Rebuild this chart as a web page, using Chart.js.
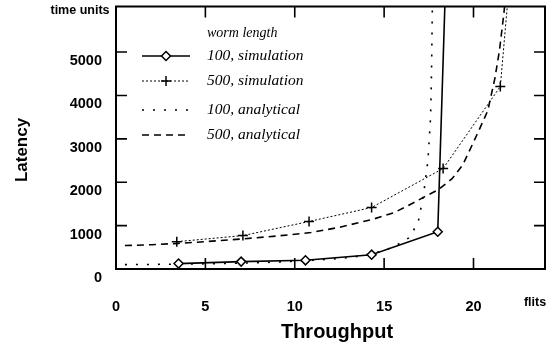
<!DOCTYPE html>
<html lang="en">
  <head>
    <meta charset="UTF-8" />
    <title>Latency vs Throughput</title>
    <script src="https://cdn.jsdelivr.net/npm/chart.js"></script>
    <style>
      body { margin: 0; background: #fff; }
      #wrap { width: 552px; height: 350px; }
    </style>
  </head>
  <body>
    <div id="wrap"><canvas id="latencyChart"></canvas></div>

    <script>
      // throughput (flits) / latency (time units)
      const sim100X = [3.5, 7.0, 10.6, 14.3, 18.0, 18.4];
      const sim100Y = [125, 170, 200, 330, 860, 6100];

      const sim500X = [3.4, 7.1, 10.8, 14.3, 18.3, 21.5, 21.9];
      const sim500Y = [630, 770, 1095, 1417, 2316, 4205, 6100];

      const ana100X = [0.5, 3, 5, 7, 9, 11, 12.5, 13.5, 14.5, 15.5, 16.4, 16.9, 17.2, 17.45, 17.6, 17.65, 17.7];
      const ana100Y = [100, 110, 120, 135, 160, 200, 240, 290, 370, 500, 720, 1070, 1700, 2500, 3500, 4500, 6100];

      const ana500X = [0.5, 2, 3.5, 5, 7, 9, 10.9, 12.5, 14.4, 15.5, 16.3, 17.2, 18, 18.8, 19.4, 20.2, 20.8, 21.2, 21.45, 21.7, 21.75];
      const ana500Y = [540, 560, 590, 630, 690, 760, 840, 960, 1150, 1290, 1450, 1650, 1820, 2080, 2400, 3100, 3650, 4400, 5030, 5890, 6100];

      const xTicks = [0, 5, 10, 15, 20];
      const yTicks = [0, 1000, 2000, 3000, 4000, 5000];
      const xMax = 24;
      const yMax = 6050;

      const legendTitle = "worm length";
      const legendLabels = ["100, simulation", "500, simulation", "100, analytical", "500, analytical"];

      function pts(xs, ys) {
        return xs.map((x, i) => ({ x: x, y: ys[i] }));
      }
      // markers only on points inside the plot
      const markR = (r) => (c) => (c.raw && c.raw.y > yMax ? 0 : r);

      const TICK = 11;

      const decor = {
        id: "decor",
        afterDatasetsDraw(chart) {
          const { ctx, chartArea: a, scales } = chart;
          ctx.save();
          ctx.strokeStyle = "#000";
          ctx.fillStyle = "#000";
          ctx.setLineDash([]);
          ctx.lineWidth = 2;
          ctx.strokeRect(a.left, a.top, a.right - a.left, a.bottom - a.top);

          // inward tick marks on all four sides
          ctx.lineWidth = 1.6;
          ctx.beginPath();
          scales.x.ticks.forEach((t) => {
            if (t.value <= 0) return;
            const px = scales.x.getPixelForValue(t.value);
            ctx.moveTo(px, a.bottom); ctx.lineTo(px, a.bottom - TICK);
            ctx.moveTo(px, a.top); ctx.lineTo(px, a.top + TICK);
          });
          scales.y.ticks.forEach((t) => {
            if (t.value <= 0) return;
            const py = scales.y.getPixelForValue(t.value);
            ctx.moveTo(a.left, py); ctx.lineTo(a.left + TICK, py);
            ctx.moveTo(a.right, py); ctx.lineTo(a.right - TICK, py);
          });
          ctx.stroke();

          // legend
          const rows = [56, 81, 110, 135];
          const x0 = 142, x1 = 190, xm = 166, tx = 207;
          ctx.font = "italic 14px 'Liberation Serif'";
          ctx.textBaseline = "middle";
          ctx.textAlign = "left";
          ctx.fillText(legendTitle, tx, 33);
          ctx.font = "italic 15.5px 'Liberation Serif'";
          chart.data.datasets.forEach((ds, i) => {
            const y = rows[i];
            ctx.lineWidth = ds.borderWidth;
            ctx.setLineDash(ds.borderDash || []);
            ctx.beginPath();
            ctx.moveTo(x0, y); ctx.lineTo(x1, y);
            ctx.stroke();
            ctx.setLineDash([]);
            if (ds.pointStyle === "rectRot") {
              ctx.lineWidth = 1.5;
              ctx.fillStyle = "#fff";
              ctx.beginPath();
              ctx.moveTo(xm, y - 4.5); ctx.lineTo(xm + 4.5, y);
              ctx.lineTo(xm, y + 4.5); ctx.lineTo(xm - 4.5, y);
              ctx.closePath();
              ctx.fill(); ctx.stroke();
              ctx.fillStyle = "#000";
            } else if (ds.pointStyle === "cross") {
              ctx.lineWidth = 1.5;
              ctx.beginPath();
              ctx.moveTo(xm - 5, y); ctx.lineTo(xm + 5, y);
              ctx.moveTo(xm, y - 5); ctx.lineTo(xm, y + 5);
              ctx.stroke();
            }
            ctx.fillText(ds.label, tx, y);
          });

          // axis captions
          ctx.textAlign = "center";
          ctx.font = "bold 12.5px 'Liberation Sans'";
          ctx.fillText("time units", 80, 11);
          ctx.fillText("flits", 535, 303);
          ctx.font = "bold 20px 'Liberation Sans'";
          ctx.fillText("Throughput", 337, 332);
          ctx.translate(22, 150);
          ctx.rotate(-Math.PI / 2);
          ctx.font = "bold 17px 'Liberation Sans'";
          ctx.fillText("Latency", 0, 0);
          ctx.restore();
        },
      };

      const tickFont = { family: "'Liberation Sans'", size: 14.5, weight: "bold" };

      const ctx = document.getElementById("latencyChart").getContext("2d");
      new Chart(ctx, {
        type: "line",
        data: {
          datasets: [
            {
              label: legendLabels[0],
              data: pts(sim100X, sim100Y),
              borderColor: "#000",
              borderWidth: 1.6,
              pointStyle: "rectRot",
              pointRadius: markR(4.5),
              pointBorderWidth: 1.5,
              pointBackgroundColor: "#fff",
              pointBorderColor: "#000",
            },
            {
              label: legendLabels[1],
              data: pts(sim500X, sim500Y),
              borderColor: "#000",
              borderWidth: 1,
              borderDash: [2, 2],
              pointStyle: "cross",
              pointRadius: markR(5),
              pointBorderWidth: 1.5,
              pointBorderColor: "#000",
            },
            {
              label: legendLabels[2],
              data: pts(ana100X, ana100Y),
              borderColor: "#000",
              borderWidth: 1.6,
              borderDash: [2, 9],
              pointRadius: 0,
            },
            {
              label: legendLabels[3],
              data: pts(ana500X, ana500Y),
              borderColor: "#000",
              borderWidth: 1.6,
              borderDash: [7, 5],
              pointRadius: 0,
            },
          ],
        },
        options: {
          responsive: true,
          maintainAspectRatio: false,
          animation: false,
          layout: { padding: { left: 0, right: 7, top: 5, bottom: 0 } },
          plugins: { legend: { display: false }, tooltip: { enabled: false } },
          scales: {
            x: {
              type: "linear",
              min: 0,
              max: xMax,
              grid: { display: false },
              border: { display: false },
              afterBuildTicks: (s) => { s.ticks = xTicks.map((v) => ({ value: v })); },
              afterFit: (s) => {
                s.height = 81;
                s.paddingLeft = 0;
                s.paddingRight = 0;
              },
              ticks: {
                padding: 21,
                color: "#000",
                font: tickFont,
                callback: (v) => String(v),
              },
            },
            y: {
              type: "linear",
              min: 0,
              max: yMax,
              grid: { display: false },
              border: { display: false },
              afterBuildTicks: (s) => { s.ticks = yTicks.map((v) => ({ value: v })); },
              afterFit: (s) => {
                s.width = 116;
                s.paddingTop = 0;
                s.paddingBottom = 0;
              },
              ticks: {
                padding: 6,
                labelOffset: 9,
                color: "#000",
                font: tickFont,
                callback: (v) => String(v),
              },
            },
          },
        },
        plugins: [decor],
      });
    </script>
  </body>
</html>
